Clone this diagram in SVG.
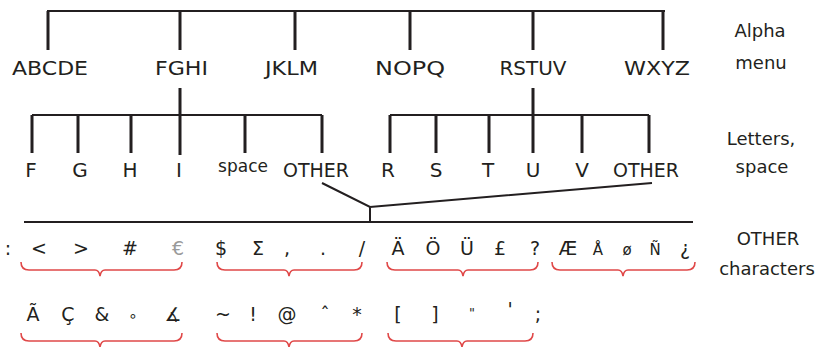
<svg xmlns="http://www.w3.org/2000/svg" width="819" height="347" viewBox="0 0 819 347">
<style>
  .t{font-family:"DejaVu Sans","Liberation Sans",sans-serif;fill:#231f20;text-anchor:middle}
  .lab{font-size:19px}
  .lab2{font-size:20px}
  .sm{font-size:17px}
  .ch{font-size:19px}
  .side{font-family:"DejaVu Sans","Liberation Sans",sans-serif;fill:#231f20;text-anchor:middle;font-size:18px}
  .h{stroke:#231f20;stroke-width:2;fill:none}
  .v{stroke:#231f20;stroke-width:3;fill:none}
  .br{stroke:#e04848;stroke-width:1.6;fill:none}
</style>
<g id="connectors">
  <path class="h" d="M47,11H665"/>
  <path class="v" d="M48,11V50M180,11V50M295,11V50M410,11V50M533,11V50M663,11V50"/>
  <path class="v" d="M180,88V155M533,88V153"/>
  <path class="h" d="M32,115H322M390,115H649"/>
  <path class="v" d="M32,115V153M78,115V153M131,115V153M245,115V153M322,115V153"/>
  <path class="v" d="M390,115V153M436,115V153M489,115V153M582,115V153M649,115V153"/>
  <path class="h" d="M322,183L370,207L652,183M370,207V222M24,222H693"/>
</g>
<g id="alpha-menu">
  <text class="t lab" x="50" y="75" textLength="76" lengthAdjust="spacingAndGlyphs">ABCDE</text>
  <text class="t lab" x="181.5" y="75" textLength="53" lengthAdjust="spacingAndGlyphs">FGHI</text>
  <text class="t lab" x="291.5" y="75" textLength="53" lengthAdjust="spacingAndGlyphs">JKLM</text>
  <text class="t lab" x="410" y="75" textLength="70" lengthAdjust="spacingAndGlyphs">NOPQ</text>
  <text class="t lab" x="533" y="75" textLength="67" lengthAdjust="spacingAndGlyphs">RSTUV</text>
  <text class="t lab" x="657" y="75" textLength="66" lengthAdjust="spacingAndGlyphs">WXYZ</text>
</g>
<g id="letters">
  <text class="t lab2" x="31" y="177">F</text>
  <text class="t lab2" x="80" y="177">G</text>
  <text class="t lab2" x="130" y="177">H</text>
  <text class="t lab2" x="179" y="177">I</text>
  <text class="t sm" x="243" y="172">space</text>
  <text class="t lab2" x="316" y="177" textLength="66" lengthAdjust="spacingAndGlyphs">OTHER</text>
  <text class="t lab2" x="388" y="177">R</text>
  <text class="t lab2" x="436" y="177">S</text>
  <text class="t lab2" x="488" y="177">T</text>
  <text class="t lab2" x="533" y="177">U</text>
  <text class="t lab2" x="582" y="177">V</text>
  <text class="t lab2" x="646" y="177" textLength="66" lengthAdjust="spacingAndGlyphs">OTHER</text>
</g>
<g id="other-chars">
  <text class="t ch" x="8" y="255">:</text>
  <text class="t ch" x="39" y="255">&lt;</text>
  <text class="t ch" x="81" y="255">&gt;</text>
  <text class="t ch" x="130" y="255">#</text>
  <text class="t ch" x="178" y="255" style="fill:#9a9a9a">€</text>
  <text class="t ch" x="221" y="255">$</text>
  <text class="t ch" x="258" y="255">Σ</text>
  <text class="t ch" x="287" y="255">,</text>
  <text class="t ch" x="323" y="255">.</text>
  <text class="t ch" x="362" y="255">/</text>
  <text class="t ch" x="398" y="255">Ä</text>
  <text class="t ch" x="433" y="255">Ö</text>
  <text class="t ch" x="467" y="255">Ü</text>
  <text class="t ch" x="500" y="255">£</text>
  <text class="t ch" x="535" y="255">?</text>
  <text class="t ch" x="568" y="255">Æ</text>
  <text class="t" x="598" y="255" style="font-size:15px">Å</text>
  <text class="t" x="627" y="255" style="font-size:15px">ø</text>
  <text class="t" x="655" y="255" style="font-size:15px">Ñ</text>
  <text class="t ch" x="685" y="255">¿</text>
  <text class="t ch" x="33" y="321">Ã</text>
  <text class="t ch" x="68" y="321">Ç</text>
  <text class="t ch" x="102" y="321">&amp;</text>
  <text class="t" x="133" y="321" style="font-size:15px">∘</text>
  <text class="t ch" x="173" y="321">∡</text>
  <text class="t ch" x="223" y="321">~</text>
  <text class="t ch" x="253" y="321">!</text>
  <text class="t ch" x="287" y="321">@</text>
  <text class="t ch" x="325" y="321">ˆ</text>
  <text class="t ch" x="357" y="321">*</text>
  <text class="t ch" x="398" y="321">[</text>
  <text class="t ch" x="435" y="321">]</text>
  <text class="t" x="472" y="317" style="font-size:13px">"</text>
  <text class="t ch" x="510" y="316">'</text>
  <text class="t ch" x="538" y="321">;</text>
</g>
<g id="braces">
  <path class="br" d="M21,262q0,8 8,8H95q4,0 5,6q1,-6 5,-6H174q8,0 8,-8"/>
  <path class="br" d="M217,262q0,8 8,8H284q4,0 5,6q1,-6 5,-6H354q8,0 8,-8"/>
  <path class="br" d="M387,262q0,8 8,8H458q4,0 5,6q1,-6 5,-6H530q8,0 8,-8"/>
  <path class="br" d="M552,262q0,8 8,8H618q4,0 5,6q1,-6 5,-6H687q8,0 8,-8"/>
  <path class="br" d="M21,333q0,8 8,8H95q4,0 5,6q1,-6 5,-6H174q8,0 8,-8"/>
  <path class="br" d="M217,333q0,8 8,8H284q4,0 5,6q1,-6 5,-6H354q8,0 8,-8"/>
  <path class="br" d="M388,333q0,8 8,8H457q4,0 5,6q1,-6 5,-6H525q8,0 8,-8"/>
</g>
<g id="side-labels">
  <text class="side" x="760" y="37">Alpha</text>
  <text class="side" x="761" y="69">menu</text>
  <text class="side" x="761" y="145">Letters,</text>
  <text class="side" x="762" y="173">space</text>
  <text class="side" x="768" y="245">OTHER</text>
  <text class="side" x="767" y="275">characters</text>
</g>
</svg>
